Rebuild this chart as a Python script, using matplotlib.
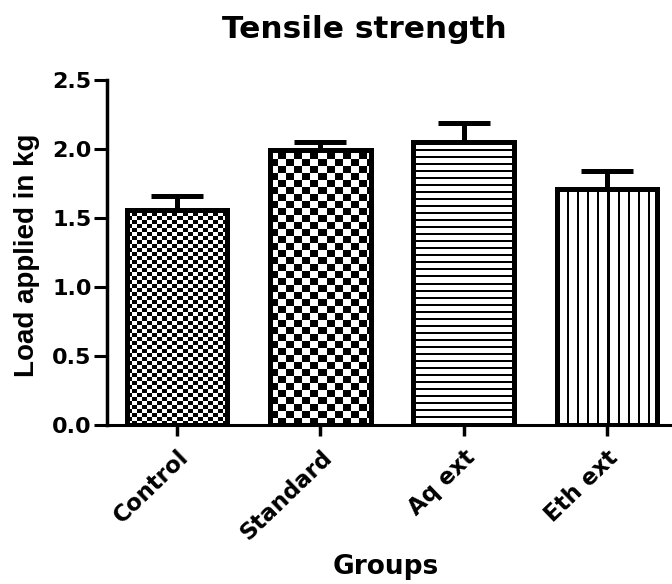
import numpy as np
import matplotlib.pyplot as plt
from matplotlib.ticker import FormatStrFormatter

# values (mean + upper SEM)
groups = ['Control', 'Standard', 'Aq ext', 'Eth ext']
means = [1.56, 1.99, 2.05, 1.71]
sems = [0.10, 0.06, 0.14, 0.13]
fills = ['check_small', 'check_big', 'hlines', 'vlines']
yticks = [0.0, 0.5, 1.0, 1.5, 2.0, 2.5]

# the reference looks horizontally stretched, DejaVu Sans Bold is wide enough to mimic that
plt.rcParams['font.family'] = ['DejaVu Sans']
plt.rcParams['font.weight'] = 'bold'


def pattern(kind, w, h):
    # pixel pattern for the bar fill, 1 = black
    yy, xx = np.mgrid[0:h, 0:w]
    if kind == 'check_small':
        return ((xx // 5 + yy // 4) % 2).astype(float)
    if kind == 'check_big':
        return ((xx // 8 + yy // 7) % 2).astype(float)
    if kind == 'hlines':
        return ((yy % 7) < 1.5).astype(float)
    return ((xx % 10) < 2).astype(float)


fig = plt.figure(figsize=(6.72, 5.84), dpi=100)
ax = fig.add_axes([0.159, 0.272, 0.838, 0.591])
x = np.arange(len(groups))
ax.set_xlim(-0.49, 3.44)
ax.set_ylim(0, 2.5)

bars = ax.bar(x, means, width=0.7, facecolor='none', edgecolor='black',
              linewidth=3.6, zorder=4)
ax.errorbar(x, means, yerr=[np.zeros(len(means)), sems], fmt='none',
            ecolor='black', elinewidth=3.6, capsize=19, capthick=3.6, zorder=2)

# fill each bar with its pattern, clipped to the bar
for bar, kind in zip(bars, fills):
    x0, x1 = bar.get_x(), bar.get_x() + bar.get_width()
    h = bar.get_height()
    (px0, py0), (px1, py1) = ax.transData.transform([(x0, 0), (x1, h)])
    w_px, h_px = int(round(px1 - px0)), int(round(py1 - py0))
    img = ax.imshow(pattern(kind, w_px, h_px), cmap='gray_r', vmin=0, vmax=1,
                    extent=[x0, x1, 0, h], origin='lower',
                    interpolation='nearest', aspect='auto', zorder=3)
    img.set_clip_path(bar)

ax.set_xlim(-0.49, 3.44)
ax.set_ylim(0, 2.5)

for side in ['top', 'right']:
    ax.spines[side].set_visible(False)
ax.spines['left'].set_linewidth(2.5)
ax.spines['bottom'].set_linewidth(2.2)

ax.set_yticks(yticks)
ax.yaxis.set_major_formatter(FormatStrFormatter('%.1f'))
ax.set_xticks(x)
ax.set_xticklabels(groups, rotation=44, ha='right', rotation_mode='anchor')
ax.tick_params(axis='y', width=2.2, length=9.5, labelsize=16, pad=1.5)
ax.tick_params(axis='x', width=2.5, length=8, labelsize=16.5, pad=7)

ax.set_ylabel('Load applied in kg', fontsize=20, fontweight='bold',
              family='Liberation Sans')
ax.yaxis.label.set_va('center')
ax.yaxis.set_label_coords(-0.142, 0.491)
fig.text(386 / 672, 1 - 567 / 584, 'Groups', ha='center', va='center',
         fontsize=19, fontweight='bold')
fig.text(364 / 672, 1 - 30 / 584, 'Tensile strength', ha='center', va='center',
         fontsize=22.5, fontweight='bold')

fig.savefig('out.png', dpi=100)
